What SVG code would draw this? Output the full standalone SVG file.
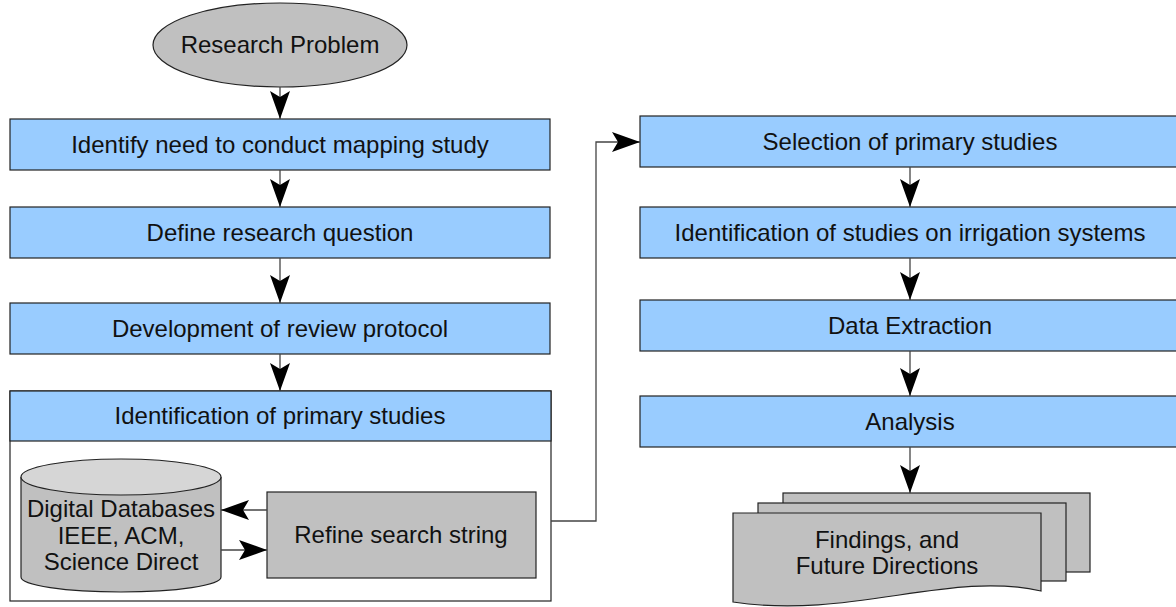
<svg xmlns="http://www.w3.org/2000/svg" width="1176" height="607" viewBox="0 0 1176 607">
<defs>
<marker id="ah" markerUnits="userSpaceOnUse" markerWidth="28" markerHeight="20" viewBox="0 0 28 20" refX="28" refY="10" orient="auto">
<path d="M0,0 L28,10 L0,20 L6,10 Z" fill="#000"/>
</marker>
</defs>
<style>
text{font-family:"Liberation Sans",Arial,sans-serif;font-size:24px;fill:#111;text-anchor:middle}
.blue{fill:#99ccff;stroke:#222;stroke-width:1.2}
.gray{fill:#c0c0c0;stroke:#222;stroke-width:1.2}
.cont{fill:#fff;stroke:#222;stroke-width:1.2}
.conn{fill:none;stroke:#444;stroke-width:1.3;marker-end:url(#ah)}
</style>
<rect width="1176" height="607" fill="#fff"/>

<g id="research-problem">
<ellipse class="gray" cx="280" cy="45" rx="127" ry="42"/>
<text x="280" y="53">Research Problem</text>
</g>
<g id="identify-need">
<rect class="blue" x="10" y="119" width="540" height="51"/>
<text x="280" y="153">Identify need to conduct mapping study</text>
</g>
<g id="define-question">
<rect class="blue" x="10" y="207" width="540" height="51"/>
<text x="280" y="241">Define research question</text>
</g>
<g id="review-protocol">
<rect class="blue" x="10" y="303" width="540" height="51"/>
<text x="280" y="337">Development of review protocol</text>
</g>
<g id="identification-primary">
<rect class="cont" x="10" y="391" width="541" height="210"/>
<rect class="blue" x="10" y="391" width="541" height="50"/>
<text x="280" y="424">Identification of primary studies</text>
</g>
<g id="digital-databases">
<path class="gray" d="M21,477 V577 A100,15 0 0 0 221,577 V477"/>
<ellipse cx="121" cy="477" rx="100" ry="18" fill="#d6d6d6" stroke="#222" stroke-width="1.2"/>
<text x="121" y="517">Digital Databases</text>
<text x="121" y="544">IEEE, ACM,</text>
<text x="121" y="570">Science Direct</text>
</g>
<g id="refine-search">
<rect class="gray" x="267" y="492" width="269" height="86"/>
<text x="401" y="543">Refine search string</text>
</g>
<g id="selection-primary">
<rect class="blue" x="640" y="116" width="540" height="51"/>
<text x="910" y="150">Selection of primary studies</text>
</g>
<g id="identification-irrigation">
<rect class="blue" x="640" y="207" width="540" height="51"/>
<text x="910" y="241">Identification of studies on irrigation systems</text>
</g>
<g id="data-extraction">
<rect class="blue" x="640" y="300" width="540" height="51"/>
<text x="910" y="334">Data Extraction</text>
</g>
<g id="analysis">
<rect class="blue" x="640" y="396" width="540" height="51"/>
<text x="910" y="430">Analysis</text>
</g>
<g id="findings">
<rect class="gray" x="783" y="493" width="307" height="79"/>
<rect class="gray" x="758" y="503" width="308" height="78"/>
<path class="gray" d="M733,513 H1041 V591 C950,570 850,620 733,602 Z"/>
<text x="887" y="548">Findings, and</text>
<text x="887" y="574">Future Directions</text>
</g>

<g id="connectors">
<line class="conn" x1="280" y1="87" x2="280" y2="119"/>
<line class="conn" x1="280" y1="170" x2="280" y2="207"/>
<line class="conn" x1="280" y1="258" x2="280" y2="303"/>
<line class="conn" x1="280" y1="354" x2="280" y2="391"/>
<line class="conn" x1="267" y1="510" x2="221" y2="510"/>
<line class="conn" x1="221" y1="550" x2="267" y2="550"/>
<polyline class="conn" points="551,521 596,521 596,142 640,142"/>
<line class="conn" x1="910" y1="167" x2="910" y2="207"/>
<line class="conn" x1="910" y1="258" x2="910" y2="300"/>
<line class="conn" x1="910" y1="351" x2="910" y2="396"/>
<line class="conn" x1="910" y1="447" x2="910" y2="493"/>
</g>
</svg>
